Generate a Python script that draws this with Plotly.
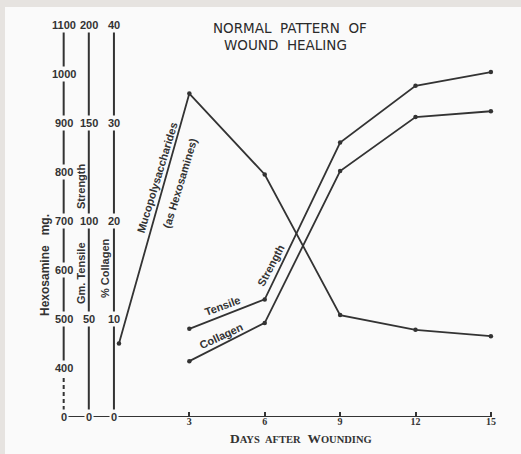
import plotly.graph_objects as go

# ---------------- data ----------------
muco_days = [0.2, 3, 6, 9, 12, 15]
hexosamine_mg = [450, 960, 795, 508, 478, 465]

days = [3, 6, 9, 12, 15]
tensile_gm = [45, 60, 140, 169, 176]
collagen_pct = [5.7, 9.6, 25.1, 30.6, 31.2]

day_ticks = [3, 6, 9, 12, 15]
hex_ticks = [0, 400, 500, 600, 700, 800, 900, 1000, 1100]
tensile_ticks = [0, 50, 100, 150, 200]
collagen_ticks = [0, 10, 20, 30, 40]

# ---------------- scales ----------------
HEX_ZERO_AT = 300      # broken hexosamine axis: "0" is drawn where 300 would be
HEX_PER_PCT = 20       # 1 % collagen step == 20 mg hexosamine
TENS_PER_PCT = 5       # 1 % collagen step == 5 gm tensile

W, H = 521, 454
ML, MR, MT, MB = 28, 10, 8, 37
PW, PH = W - ML - MR, H - MT - MB
X_RANGE = [-3.42, 15.8]
PX_PER_PCT = 9.8
Y_TOP = PH / PX_PER_PCT

PAGE = "#fafafa"
BAND = "#e6e3e0"
INK = "#333333"


def hex_pos(v):
    return HEX_ZERO_AT if v == 0 else v


def px(xp):
    return (xp - ML) / PW


def py(yp):
    return (H - MB - yp) / PH


HEX_AXIS_X, TENS_AXIS_X, COLL_AXIS_X = -2, -1, 0

fig = go.Figure()

line_style = dict(color=INK, width=1.8)
marker_style = dict(color=INK, size=4.5)

fig.add_trace(go.Scatter(x=muco_days, y=hexosamine_mg, yaxis="y3",
                         mode="lines+markers", line=line_style,
                         marker=marker_style, cliponaxis=False,
                         name="Mucopolysaccharides"))
fig.add_trace(go.Scatter(x=days, y=tensile_gm, yaxis="y2",
                         mode="lines+markers", line=line_style,
                         marker=marker_style, cliponaxis=False,
                         name="Tensile Strength"))
fig.add_trace(go.Scatter(x=days, y=collagen_pct, yaxis="y",
                         mode="lines+markers", line=line_style,
                         marker=marker_style, cliponaxis=False,
                         name="Collagen"))

shapes = [
    # grey scan bands (top and left edge)
    dict(type="rect", xref="paper", yref="paper",
         x0=px(-2), x1=px(W + 2), y0=py(7), y1=py(-2),
         fillcolor=BAND, line=dict(width=0), layer="above"),
    dict(type="rect", xref="paper", yref="paper",
         x0=px(-2), x1=px(5), y0=py(H + 2), y1=py(-2),
         fillcolor=BAND, line=dict(width=0), layer="above"),
    # base line joining the zeros and running along the day axis
    dict(type="line", xref="x", yref="y", x0=HEX_AXIS_X, x1=day_ticks[-1],
         y0=0, y1=0, line=dict(color=INK, width=2)),
    # hexosamine axis (solid part and dashed break)
    dict(type="line", xref="x", yref="y3", x0=HEX_AXIS_X, x1=HEX_AXIS_X,
         y0=hex_ticks[1], y1=hex_ticks[-1], line=dict(color=INK, width=2)),
    dict(type="line", xref="x", yref="y3", x0=HEX_AXIS_X, x1=HEX_AXIS_X,
         y0=HEX_ZERO_AT, y1=hex_ticks[1],
         line=dict(color=INK, width=2, dash="4px,3px")),
    # tensile axis
    dict(type="line", xref="x", yref="y2", x0=TENS_AXIS_X, x1=TENS_AXIS_X,
         y0=tensile_ticks[0], y1=tensile_ticks[-1], line=dict(color=INK, width=2)),
    # collagen axis
    dict(type="line", xref="x", yref="y", x0=COLL_AXIS_X, x1=COLL_AXIS_X,
         y0=collagen_ticks[0], y1=collagen_ticks[-1], line=dict(color=INK, width=2)),
]

tick_font = dict(family="Liberation Sans, Arial, sans-serif", size=11, color=INK)
annotations = []


def tick_label(x, yref, y, text):
    annotations.append(dict(x=x, xref="x", y=y, yref=yref, text="<b>%s</b>" % text,
                            showarrow=False, font=tick_font, bgcolor=PAGE,
                            borderpad=1, xanchor="center", yanchor="middle"))


for t in hex_ticks:
    tick_label(HEX_AXIS_X, "y3", hex_pos(t), str(t))
for t in tensile_ticks:
    tick_label(TENS_AXIS_X, "y2", t, str(t))
for t in collagen_ticks:
    tick_label(COLL_AXIS_X, "y", t, str(t))

label_font = dict(family="Liberation Sans, Arial, sans-serif", size=11, color=INK)


def text_at(xp, yp, text, angle=0, font=label_font):
    annotations.append(dict(x=px(xp), y=py(yp), xref="paper", yref="paper",
                            text=text, showarrow=False, textangle=angle,
                            font=font, xanchor="center", yanchor="middle"))


# axis titles
text_at(45, 265, "<b>Hexosamine&nbsp;&nbsp;&nbsp;mg.</b>", -90,
        dict(family="Liberation Sans, Arial, sans-serif", size=12, color=INK))
text_at(81, 186, "<b>Strength</b>", -90)
text_at(81, 273, "<b>Gm.&nbsp;Tensile</b>", -90)
text_at(105, 268, "<b>%&nbsp;Collagen</b>", -90)

# curve labels
text_at(157, 178, "<b>Mucopolysaccharides</b>", -73)
text_at(180, 183, "<b>(as Hexosamines)</b>", -73)
text_at(222, 306, "<b>Tensile</b>", -20)
text_at(271, 265, "<b>Strength</b>", -62)
text_at(221, 336, "<b>Collagen</b>", -25)

# title
title_font = dict(family="DejaVu Sans, sans-serif", size=13.5, color="#2a2a2a")
text_at(290, 28, "NORMAL&nbsp;&nbsp;PATTERN&nbsp;&nbsp;OF", 0, title_font)
text_at(285, 45, "WOUND&nbsp;&nbsp;HEALING", 0, title_font)

# x title in small caps
text_at(301, 438,
        "<b>D<span style='font-size:10.5px'>AYS&nbsp;&nbsp;AFTER</span>&nbsp;&nbsp;"
        "W<span style='font-size:10.5px'>OUNDING</span></b>", 0,
        dict(family="Liberation Serif, Times New Roman, serif", size=13.5, color=INK))

fig.update_layout(
    width=W, height=H,
    margin=dict(l=ML, r=MR, t=MT, b=MB, autoexpand=False),
    paper_bgcolor=PAGE, plot_bgcolor=PAGE,
    showlegend=False,
    shapes=shapes,
    annotations=annotations,
    xaxis=dict(range=X_RANGE, tickvals=day_ticks, ticktext=[str(d) for d in day_ticks],
               ticks="inside", ticklen=5, tickwidth=1.5, tickcolor=INK,
               ticklabelstandoff=-3,
               showline=False, showgrid=False, zeroline=False,
               tickfont=dict(family="Liberation Serif, Times New Roman, serif",
                             size=10, color=INK, weight="bold"),
               fixedrange=True),
    yaxis=dict(range=[0, Y_TOP], visible=False, fixedrange=True),
    yaxis2=dict(range=[0, Y_TOP * TENS_PER_PCT], overlaying="y", visible=False,
                fixedrange=True),
    yaxis3=dict(range=[HEX_ZERO_AT, HEX_ZERO_AT + Y_TOP * HEX_PER_PCT],
                overlaying="y", visible=False, fixedrange=True),
)

fig.write_html("out.html")
